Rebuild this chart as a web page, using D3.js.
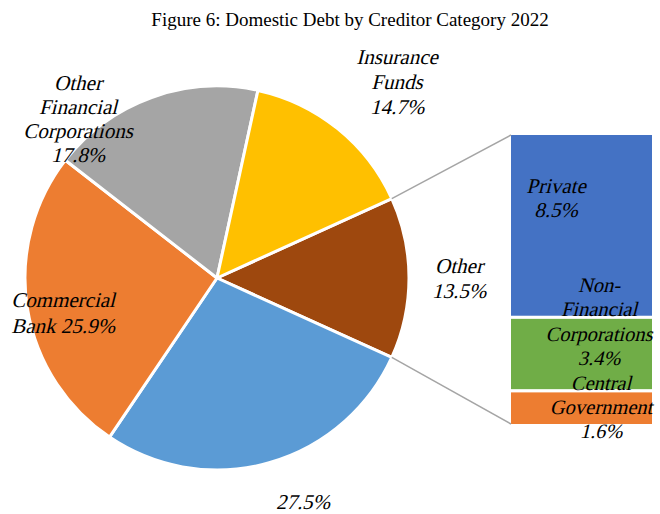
<!DOCTYPE html>
<html><head><meta charset="utf-8">
<script src="https://cdn.jsdelivr.net/npm/d3@7"></script>
<style>body{margin:0;background:#fff}svg{display:block}</style>
</head><body>
<script>
const title = "Figure 6: Domestic Debt by Creditor Category 2022";
const pieCategories = ["Other", "Central Bank", "Commercial Bank", "Other Financial Corporations", "Insurance Funds"];
const pieValues = [13.5, 27.5, 25.9, 17.8, 14.7];
const pieLabelLines = [["Other", "13.5%"], ["27.5%"], ["Commercial", "Bank 25.9%"], ["Other", "Financial", "Corporations", "17.8%"], ["Insurance", "Funds", "14.7%"]];
const barCategories = ["Private", "Non-Financial Corporations", "Central Government"];
const barValues = [8.5, 3.4, 1.6];
const barLabelLines = [["Private", "8.5%"], ["Non-", "Financial", "Corporations", "3.4%"], ["Central", "Government", "1.6%"]];

// layout / style (not data)
const W = 660, H = 514;
const pieColors = ["#9E480E", "#5B9BD5", "#ED7D31", "#A5A5A5", "#FFC000"];
const barColors = ["#4472C4", "#70AD47", "#ED7D31"];
const cx = 217, cy = 278, R = 192;
const pieLabelPos = [[459, 273], [303, 509], [63, 307], [78, 90], [397, 64]];
const barLabelPos = [[556, 193], [599, 292], [601, 390]];
const barFont = [21, 20.5, 20.5];
const lineH = [25, 25, 26, 24, 25];
const barLineH = [24, 24.3, 24];
const serif = "'Liberation Serif','Times New Roman',Times,serif";

const svg = d3.select("body").append("svg").attr("width", W).attr("height", H);
svg.append("text").attr("x", 350).attr("y", 26).attr("text-anchor", "middle")
  .attr("font-family", serif).attr("font-size", 19)
  .attr("fill", "#000").text(title);

const otherFrac = pieValues[0] / d3.sum(pieValues) * 2 * Math.PI;
const start = Math.PI / 2 - otherFrac / 2;
const pie = d3.pie().sort(null).startAngle(start).endAngle(start + 2 * Math.PI);
const arcs = pie(pieValues);
const arc = d3.arc().innerRadius(0).outerRadius(R);
const g = svg.append("g").attr("transform", `translate(${cx},${cy})`);
g.selectAll("path").data(arcs).join("path")
  .attr("d", arc).attr("fill", (d, i) => pieColors[i])
  .attr("stroke", "#fff").attr("stroke-width", 3).attr("stroke-linejoin", "round");

// bar of pie
const barX = 511, barW = 141;
const y = d3.scaleLinear().domain([0, d3.sum(barValues)]).range([133.5, 425.5]);
let acc = 0;
const stack = barValues.map((v, i) => { const s = {i, y0: acc, y1: acc + v}; acc += v; return s; });
svg.selectAll("rect.bar").data(stack).join("rect").attr("class", "bar")
  .attr("x", barX - 1.5).attr("width", barW + 3)
  .attr("y", d => y(d.y0)).attr("height", d => y(d.y1) - y(d.y0))
  .attr("fill", d => barColors[d.i]).attr("stroke", "#fff").attr("stroke-width", 3);

// connector lines
const a0 = arcs[0];
const p1 = [cx + R * Math.sin(a0.startAngle), cy - R * Math.cos(a0.startAngle)];
const p2 = [cx + R * Math.sin(a0.endAngle), cy - R * Math.cos(a0.endAngle)];
svg.append("line").attr("x1", p1[0]).attr("y1", p1[1]).attr("x2", barX).attr("y2", y(0) + 1.5)
  .attr("stroke", "#A5A5A5").attr("stroke-width", 1.5);
svg.append("line").attr("x1", p2[0]).attr("y1", p2[1]).attr("x2", barX).attr("y2", y(d3.sum(barValues)) - 1.5)
  .attr("stroke", "#A5A5A5").attr("stroke-width", 1.5);

const sk = Math.tan(14 * Math.PI / 180);
function label(lines, pos, lh, fs) {
  const t = svg.append("text").attr("text-anchor", "middle")
    .attr("transform", `translate(${pos[0]},${pos[1]}) skewX(-14)`)
    .attr("font-family", serif)
    .attr("font-size", fs).attr("fill", "#000");
  lines.forEach((l, k) => t.append("tspan").attr("x", k * lh * sk).attr("y", k * lh).text(l));
}
pieLabelLines.forEach((l, i) => label(l, pieLabelPos[i], lineH[i], 21));
barLabelLines.forEach((l, i) => label(l, barLabelPos[i], barLineH[i], barFont[i]));
</script>
</body></html>
